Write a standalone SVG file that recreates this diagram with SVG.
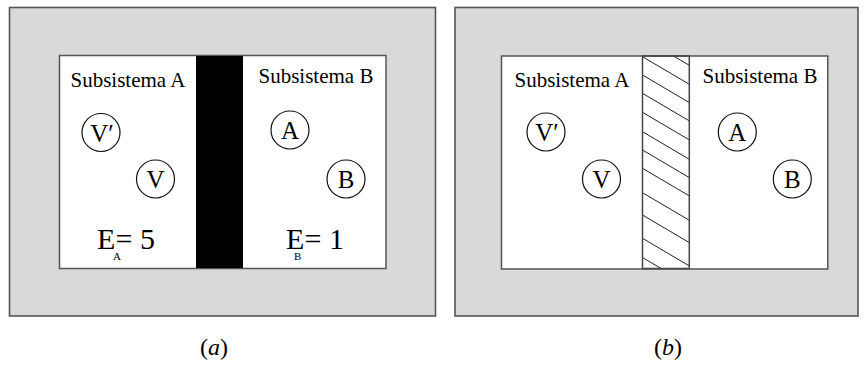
<svg xmlns="http://www.w3.org/2000/svg" width="868" height="370" viewBox="0 0 868 370">
<defs>
<style>
.outer{fill:#d9d9d9;stroke:#555;stroke-width:1.6}
.inner{fill:#fff;stroke:#555;stroke-width:1.5}
.circ{fill:#fff;stroke:#111;stroke-width:1.2}
text{font-family:'Liberation Serif','Times New Roman','DejaVu Serif',serif;fill:#000}
.lbl{font-size:21px}
.cl{font-size:25px;text-anchor:middle}
.en{font-size:30px}
.sub{font-size:11px}
.cap{font-size:24px;text-anchor:middle}
.hatch{stroke:#222;stroke-width:1}
</style>
<clipPath id="barclip"><rect x="642.5" y="56" width="46.8" height="212.5"/></clipPath>
</defs>

<g id="panel-a">
<rect class="outer" x="9.5" y="7.5" width="426" height="308.5"/>
<rect class="inner" x="59.5" y="55.5" width="326.5" height="213"/>
<rect x="196" y="56" width="47" height="212" fill="#000"/>
</g>
<g id="a-labels">
<text class="lbl" x="70.5" y="87.3" font-family="Liberation Serif, serif">Subsistema A</text>
<text class="lbl" x="258.5" y="82.7" font-family="Liberation Serif, serif">Subsistema B</text>
</g>
<g id="a-Vp"><circle class="circ" cx="101" cy="132.5" r="19"/><text class="cl" x="102" y="141.5" font-family="Liberation Serif, serif">V′</text></g>
<g id="a-V"><circle class="circ" cx="155.5" cy="179" r="19"/><text class="cl" x="155.5" y="188" font-family="Liberation Serif, serif">V</text></g>
<g id="a-A"><circle class="circ" cx="290" cy="130" r="19"/><text class="cl" x="290" y="139" font-family="Liberation Serif, serif">A</text></g>
<g id="a-B"><circle class="circ" cx="346" cy="179" r="19"/><text class="cl" x="346" y="188" font-family="Liberation Serif, serif">B</text></g>
<g id="a-EA">
<text class="en" x="97" y="249.3" font-family="Liberation Serif, serif">E</text>
<text class="en" x="115.5" y="249.3" font-family="Liberation Serif, serif">= 5</text>
<text class="sub" x="113" y="260" font-family="Liberation Serif, serif">A</text>
</g>
<g id="a-EB">
<text class="en" x="286" y="249.3" font-family="Liberation Serif, serif">E</text>
<text class="en" x="304.5" y="249.3" font-family="Liberation Serif, serif">= 1</text>
<text class="sub" x="294" y="260" font-family="Liberation Serif, serif">B</text>
</g>

<g id="panel-b">
<rect class="outer" x="455" y="7.5" width="403" height="308.5"/>
<rect class="inner" x="501.5" y="56" width="326.3" height="213"/>
<g clip-path="url(#barclip)">
<line class="hatch" x1="642.5" y1="37.7" x2="689.3" y2="65.3"/>
<line class="hatch" x1="642.5" y1="56.7" x2="689.3" y2="84.3"/>
<line class="hatch" x1="642.5" y1="75" x2="689.3" y2="102.6"/>
<line class="hatch" x1="642.5" y1="93.3" x2="689.3" y2="120.9"/>
<line class="hatch" x1="642.5" y1="112.3" x2="689.3" y2="139.9"/>
<line class="hatch" x1="642.5" y1="131.7" x2="689.3" y2="159.3"/>
<line class="hatch" x1="642.5" y1="150" x2="689.3" y2="177.6"/>
<line class="hatch" x1="642.5" y1="168.3" x2="689.3" y2="195.9"/>
<line class="hatch" x1="642.5" y1="192.7" x2="689.3" y2="220.3"/>
<line class="hatch" x1="642.5" y1="215" x2="689.3" y2="242.6"/>
<line class="hatch" x1="642.5" y1="238.3" x2="689.3" y2="265.9"/>
<line class="hatch" x1="642.5" y1="257.5" x2="689.3" y2="285.1"/>
</g>
<rect x="642.5" y="56" width="46.8" height="212.5" fill="none" stroke="#444" stroke-width="1.5"/>
</g>
<g id="b-labels">
<text class="lbl" x="514.5" y="86.7" font-family="Liberation Serif, serif">Subsistema A</text>
<text class="lbl" x="702.5" y="83.3" font-family="Liberation Serif, serif">Subsistema B</text>
</g>
<g id="b-Vp"><circle class="circ" cx="546" cy="132" r="19"/><text class="cl" x="547" y="141" font-family="Liberation Serif, serif">V′</text></g>
<g id="b-V"><circle class="circ" cx="601.5" cy="179" r="19"/><text class="cl" x="601.5" y="188" font-family="Liberation Serif, serif">V</text></g>
<g id="b-A"><circle class="circ" cx="737.3" cy="132" r="19"/><text class="cl" x="737.3" y="141" font-family="Liberation Serif, serif">A</text></g>
<g id="b-B"><circle class="circ" cx="792.3" cy="179" r="19"/><text class="cl" x="792.3" y="188" font-family="Liberation Serif, serif">B</text></g>

<g id="captions">
<text class="cap" x="214" y="355" font-family="Liberation Serif, serif">(<tspan font-style="italic">a</tspan>)</text>
<text class="cap" x="668" y="355" font-family="Liberation Serif, serif">(<tspan font-style="italic">b</tspan>)</text>
</g>
</svg>
